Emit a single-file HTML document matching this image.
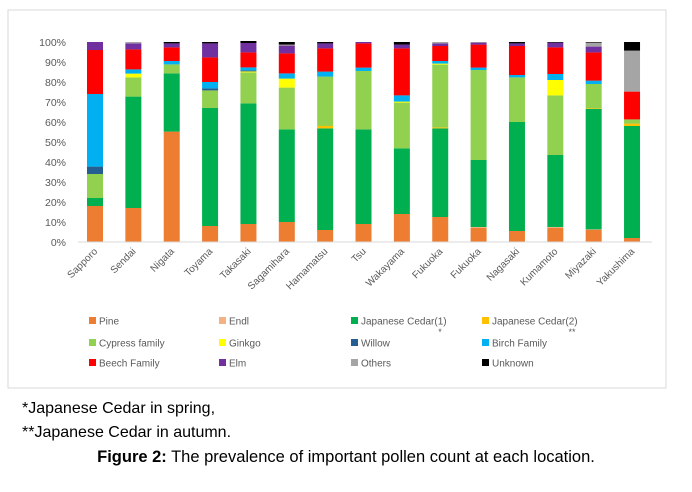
<!DOCTYPE html>
<html><head><meta charset="utf-8"><style>
body{margin:0;background:#fff;width:692px;height:492px;overflow:hidden;font-family:"Liberation Sans",Arial,sans-serif}
svg text{font-family:"Liberation Sans",Arial,sans-serif}
.cap{position:absolute;left:22px;font-size:16px;color:#000}
</style></head><body>
<svg id="chart" width="692" height="492" style="position:absolute;left:0;top:0">
<rect x="8" y="10" width="658" height="378" fill="none" stroke="#d9d9d9"/>
</svg>
<div class="cap" style="top:400px">*Japanese Cedar in spring,</div>
<div class="cap" style="top:424px">**Japanese Cedar in autumn.</div>
<div style="position:absolute;left:0;width:692px;top:448px;text-align:center;font-size:16.5px"><b>Figure 2:</b> The prevalence of important pollen count at each location.</div>
<script>
const cities=["Sapporo","Sendai","Nigata","Toyama","Takasaki","Sagamihara","Hamamatsu","Tsu","Wakayama","Fukuoka","Fukuoka","Nagasaki","Kumamoto","Miyazaki","Yakushima"];
const seriesNames=["Pine","Endl","Japanese Cedar(1)","Japanese Cedar(2)","Cypress family","Ginkgo","Willow","Birch Family","Beech Family","Elm","Others","Unknown"];
const colors=["#ed7d31","#f4b183","#00b050","#ffc000","#92d050","#ffff00","#255e91","#00b0f0","#ff0000","#7030a0","#a5a5a5","#000000"];
const pine=[18,17,55.2,8,9,10,6,9,14,12.5,7,5.5,7,6,2];
const endl=[0,0,0,0,0,0,0,0,0,0,0.5,0,0.5,0.3,0];
const cedar1=[4,55.7,29.1,59,60.3,46.3,50.8,47.3,32.8,44.3,33.5,54.5,36,60.2,56];
const cedar2=[0,0,0,0,0,0,1.2,0,0,0.5,0,0,0,0.3,1.2];
const cypress=[12,9.6,4.5,8.8,15.5,20.9,24.7,29.2,22.9,31.4,45,22.3,29.8,12.2,2.1];
const ginkgo=[0,1.9,0,0,0.5,4.5,0,0,0.5,0.5,0,0,7.7,0,0];
const willow=[3.7,0,0,1,0.5,0,0,0,0,0,0,0,0,0,0];
const birch=[36.3,2.1,1.7,3.2,1.5,2.6,2.5,1.7,3.1,1.3,1.2,1.2,3,1.7,0];
const beech=[22,10,6.8,12.3,7.5,10,11.6,12.1,23.5,7.5,11.5,14.5,13.3,14.1,13.9];
const elm=[4,3,2,7,4.7,3.9,2.5,0.7,1.9,1.3,1,1.3,2.4,2.9,0];
const others=[0,0.7,0,0,0,0.5,0,0,0,0.7,0.3,0,0,2,20.5];
const unknown=[0,0,0.7,0.7,1,1.3,0.7,0,1.3,0,0,0.7,0.3,0.3,4.3];
const yTicks=[0,10,20,30,40,50,60,70,80,90,100];
const series=[pine,endl,cedar1,cedar2,cypress,ginkgo,willow,birch,beech,elm,others,unknown];
const NS="http://www.w3.org/2000/svg";
const svg=document.getElementById('chart');
const y0=242,y1=42,xl=78,xr=652;
const yS=v=>y0-(v/100)*(y0-y1);
const xS=i=>95+i*38.36;
function el(t,a){const e=document.createElementNS(NS,t);for(const k in a)e.setAttribute(k,a[k]);svg.appendChild(e);return e;}
yTicks.forEach(t=>{const e=el('text',{x:66,y:yS(t)+4,'text-anchor':'end','font-size':'10.5',fill:'#595959'});e.textContent=t+'%';

});
cities.forEach((c,i)=>{let cum=0;series.forEach((s,k)=>{const v=s[i];if(v>0){const r=el('rect',{x:xS(i)-8,y:yS(cum+v),width:16,height:yS(cum)-yS(cum+v),fill:colors[k]});

}cum+=v;});
const x=xS(i)+3,y=252;const t=el('text',{x:x,y:y,'text-anchor':'end','font-size':'10',fill:'#595959',transform:`rotate(-45 ${x} ${y})`});t.textContent=c;

});
const ax=el('line',{x1:xl,x2:xr,y1:y0,y2:y0,stroke:'#d9d9d9'});


const lx=[93,223,355,486],ly=[321,343,363];
seriesNames.forEach((n,k)=>{const x=lx[k%4],y=ly[Math.floor(k/4)];
const g=el('g',{});


const r=document.createElementNS(NS,'rect');r.setAttribute('x',x-4);r.setAttribute('y',y-4);r.setAttribute('width',7);r.setAttribute('height',7);r.setAttribute('fill',colors[k]);g.appendChild(r);
const t=document.createElementNS(NS,'text');t.setAttribute('x',x+6);t.setAttribute('y',y+3.5);t.setAttribute('font-size','10');t.setAttribute('fill','#595959');t.textContent=n;g.appendChild(t);});
const a1=el('text',{x:440,y:335,'font-size':'9',fill:'#595959','text-anchor':'middle'});a1.textContent='*';


const a2=el('text',{x:572,y:335,'font-size':'9',fill:'#595959','text-anchor':'middle'});a2.textContent='**';


</script>
</body></html>
